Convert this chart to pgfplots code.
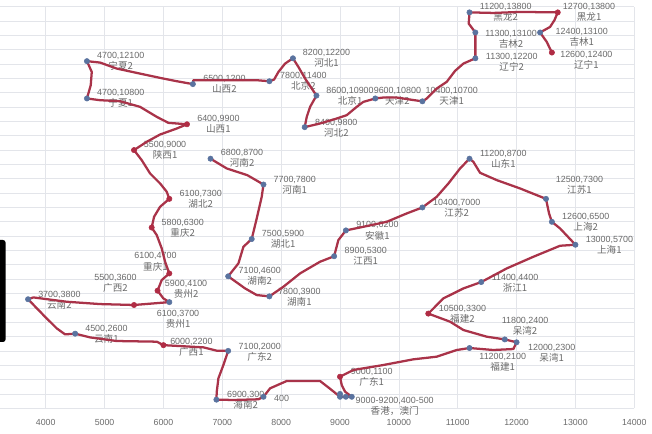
\documentclass[border=0pt]{standalone}
\usepackage{pgfplots}
\pgfplotsset{compat=1.18}
\usepackage{fontspec}
\setmainfont{Liberation Sans}
\newfontfamily\cjk{Noto Sans CJK SC}

\definecolor{routered}{HTML}{A93349}
\definecolor{dotblue}{HTML}{5A739F}
\definecolor{dotred}{HTML}{B02C44}
\definecolor{gridgrey}{HTML}{E3E5EA}
\definecolor{labelgrey}{HTML}{6A6A6A}

\tikzset{lbl/.style={align=center, inner sep=0pt, text=labelgrey, font=\fontsize{6.7pt}{8.3pt}\selectfont}}
% one label: centre x, centre y, coordinate text, place name
\newcommand{\lab}[4]{\node[lbl] at (axis cs:#1,#2) {#3\\{\cjk\fontsize{7.2pt}{8.3pt}\selectfont #4}};}

\begin{document}
\begin{tikzpicture}
\useasboundingbox (0,0) rectangle (489pt,325.5pt);
\begin{axis}[
    at={(0pt,19.3pt)}, anchor=south west,
    scale only axis,
    width=475.7pt, height=301.2pt,
    xmin=3223, xmax=14000,
    ymin=0, ymax=14000,
    xtick={4000,5000,6000,7000,8000,9000,10000,11000,12000,13000,14000},
    ytick distance=500,
    yticklabels={},
    scaled x ticks=false,
    scaled y ticks=false,
    xticklabel style={/pgf/number format/1000 sep={}, font=\fontsize{6.6pt}{8pt}\selectfont, text=labelgrey, yshift=-4.5pt},
    /pgf/number format/assume math mode=true,
    major tick length=0pt,
    grid=major,
    grid style={gridgrey, line width=0.5pt},
    axis line style={draw=none},
    clip=false,
]

\lab{5274}{12098}{4700,12100}{宁夏2}
\lab{7036}{11285}{6500,1200}{山西2}
\lab{8378}{11389}{7800,11400}{北京2}
\lab{8771}{12202}{8200,12200}{河北1}
\lab{5274}{10797}{4700,10800}{宁夏1}
\lab{6934}{9892}{6400,9900}{山西1}
\lab{6028}{8998}{5500,9000}{陕西1}
\lab{7336}{8708}{6800,8700}{河南2}
\lab{8231}{7779}{7700,7800}{河南1}
\lab{6634}{7279}{6100,7300}{湖北2}
\lab{11816}{13793}{11200,13800}{黑龙2}
\lab{13232}{13816}{12700,13800}{黑龙1}
\lab{11906}{12864}{11300,13100}{吉林2}
\lab{13108}{12922}{12400,13100}{吉林1}
\lab{11918}{12051}{11300,12200}{辽宁2}
\lab{13186}{12121}{12600,12400}{辽宁1}
\lab{9171}{10890}{8600,10900}{北京1}
\lab{9975}{10890}{9600,10800}{天津2}
\lab{10898}{10867}{10400,10700}{天津1}
\lab{8938}{9776}{8400,9800}{河北2}
\lab{11776}{8696}{11200,8700}{山东1}
\lab{13068}{7779}{12500,7300}{江苏1}
\lab{10983}{6978}{10400,7000}{江苏2}
\lab{13175}{6477}{12600,6500}{上海2}
\lab{9635}{6187}{9100,6200}{安徽1}
\lab{9437}{5293}{8900,5300}{江西1}
\lab{13577}{5688}{13000,5700}{上海1}
\lab{11974}{4352}{11400,4400}{浙江1}
\lab{11080}{3273}{10500,3300}{福建2}
\lab{12144}{2843}{11800,2400}{呆湾2}
\lab{12597}{1914}{12000,2300}{呆湾1}
\lab{11765}{1613}{11200,2100}{福建1}
\lab{9539}{1090}{9000,1100}{广东1}
\lab{9930}{80}{9000-9200,400-500}{香港，澳门}
\lab{6328}{6268}{5800,6300}{重庆2}
\lab{8033}{5885}{7500,5900}{湖北1}
\lab{5864}{5107}{6100,4700}{重庆1}
\lab{7636}{4585}{7100,4600}{湖南2}
\lab{5184}{4352}{5500,3600}{广西2}
\lab{6385}{4143}{5900,4100}{贵州2}
\lab{8310}{3853}{7800,3900}{湖南1}
\lab{4232}{3772}{3700,3800}{云南2}
\lab{6249}{3087}{6100,3700}{贵州1}
\lab{5031}{2564}{4500,2600}{云南1}
\lab{6475}{2135}{6000,2200}{广西1}
\lab{7636}{1961}{7100,2000}{广东2}
\lab{7398}{277}{6900,300}{海南2}
\node[lbl] at (axis cs:8009,359) {400};

% the hand-drawn outline, read off point by point
\addplot[routered, line width=1.7pt, line join=round, line cap=round] coordinates {
    (12600,12400)(12513,12771)(12400,13100)(12569,13293)(12643,13526)(12700,13800)
    (12059,13816)(11606,13781)(11200,13800)(11187,13410)(11300,13100)(11300,12200)
    (11097,12016)(10955,11761)(10813,11378)(10643,11146)(10473,10797)(10400,10700)
    (10190,10762)(9964,10832)(9737,10832)(9600,10800)(9397,10681)(9284,10507)
    (9114,10217)(8944,10100)(8661,9927)(8400,9800)(8435,10159)(8492,10507)(8600,10900)
    (8407,11494)(8293,11900)(8200,12200)(8067,12016)(7954,11726)(7880,11459)(7800,11400)
    (7585,11436)(7076,11436)(6509,11436)(6500,11300)(6226,11401)(5943,11517)(5546,11691)
    (5206,11842)(4923,12051)(4700,12100)(4782,11726)(4765,11262)(4700,10800)(4923,10739)
    (5263,10704)(5603,10507)(5886,10159)(6084,9950)(6400,9900)(6226,9752)(5943,9543)
    (5716,9288)(5500,9000)(5631,8649)(5773,8185)(5943,7837)(6056,7547)(6100,7300)
    (5943,7024)(5841,6676)(5800,6300)(5886,6037)(5971,5572)(6028,5108)(6100,4700)
    (5971,4469)(5900,4100)(5999,3830)(6100,3700)(5500,3600)(4923,3632)(4357,3713)
    (3790,3864)(3700,3800)(3960,3250)(4187,2785)(4329,2576)(4500,2600)(4753,2471)
    (5206,2344)(5886,2321)(6000,2200)(6679,2123)(6906,2007)(7100,2000)(7019,1508)
    (6934,1044)(6906,579)(6900,300)(7189,289)(7613,312)(7700,400)(7812,695)(8095,951)
    (8661,951)(8831,680)(9000,400)(9200,400)(9086,579)(9029,811)(9000,1100)(9227,1334)
    (9737,1508)(10247,1706)(10643,1798)(10983,2031)(11200,2100)(11606,2031)(11946,2065)
    (12000,2300)(11800,2400)(11493,2495)(11097,2727)(10870,3018)(10500,3300)(10757,3830)
    (11097,4178)(11400,4400)(11833,4875)(12286,5282)(12739,5665)(13000,5700)(12739,6269)
    (12600,6500)(12552,6792)(12500,7300)(12059,7663)(11663,7953)(11380,8208)(11266,8591)
    (11200,8700)(11040,8359)(10842,7837)(10643,7372)(10400,7000)(10134,6792)(9794,6500)
    (9397,6326)(9100,6200)(8972,5862)(8900,5300)(8661,5108)(8322,4702)(8038,4236)
    (7800,3900)(7585,3946)(7387,4178)(7100,4600)(7274,5050)(7359,5630)(7500,5900)
    (7585,6617)(7670,7372)(7700,7800)(7424,8127)(7076,8359)(6800,8700)
};

% blue points
\addplot[only marks, color=dotblue, mark=*, mark size=2pt] coordinates {
    (4700,12100)(4700,10800)(6500,11300)(7800,11400)(8200,12200)(8400,9800)(8600,10900)
    (9600,10800)(10400,10700)(11200,13800)(11300,13100)(11300,12200)(12400,13100)
    (7700,7800)(6800,8700)(7500,5900)(7100,4600)(7800,3900)(6100,3700)(4500,2600)
    (3700,3800)(7100,2000)(7700,400)(6900,300)(9000,400)(9000,500)(9100,400)(9200,400)
    (11200,8700)(10400,7000)(12500,7300)(12600,6500)(9100,6200)(8900,5300)(13000,5700)
    (11400,4400)(11800,2400)(12000,2300)(11200,2100)
};
% red points
\addplot[only marks, color=dotred, mark=*, mark size=2pt] coordinates {
    (6400,9900)(5500,9000)(6100,7300)(5800,6300)(6100,4700)(5900,4100)(5500,3600)
    (6000,2200)(10500,3300)(9000,1100)(12700,13800)(12600,12400)
};
\end{axis}
% dark strip of the screenshot at the left edge
\fill[black, rounded corners=2pt] (-8pt,69pt) rectangle (4.2pt,145.5pt);
\end{tikzpicture}
\end{document}
